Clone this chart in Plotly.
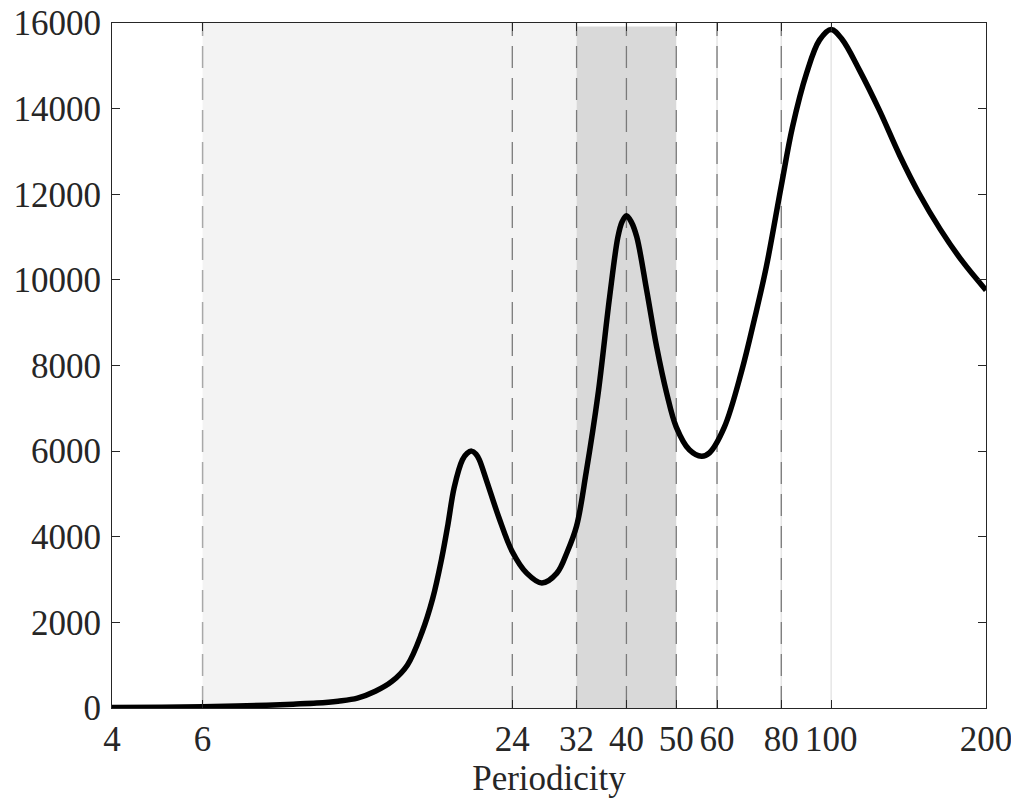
import plotly.graph_objects as go

# Data
periodicity = [4, 5, 6, 7, 8, 9, 10, 11, 12, 13, 14, 15, 16, 16.8, 17.5, 18, 18.5, 19.2,
               19.6, 20, 20.4, 20.7, 21.4, 22.6, 24, 25.6, 27.4, 29.3, 30.7, 32, 33.4,
               35.2, 37.1, 38.5, 39.2, 40, 40.9, 41.9, 43.8, 45.8, 47.9, 50, 53, 56, 58,
               62, 67, 71, 74.8, 80, 84.1, 89.6, 94.9, 100, 105, 113.5, 124, 136, 148,
               163, 180, 200]
power = [10, 15, 30, 45, 65, 90, 115, 160, 230, 390, 620, 1000, 1750, 2550, 3500, 4300,
         5150, 5800, 5950, 6000, 5930, 5800, 5300, 4450, 3650, 3150, 2920, 3150, 3650,
         4250, 5500, 7300, 9600, 11000, 11350, 11500, 11350, 11000, 9750, 8430, 7350,
         6560, 6030, 5880, 5960, 6560, 7870, 9100, 10300, 12200, 13570, 14830, 15600,
         15850, 15620, 14900, 13970, 12900, 12030, 11180, 10430, 9760]

x_ticks = [4, 6, 24, 32, 40, 50, 60, 80, 100, 200]
y_ticks = [0, 2000, 4000, 6000, 8000, 10000, 12000, 14000, 16000]

light_band = (6, 32)
dark_band = (32, 50)
dashed_lines = [24, 32, 40, 50, 60, 80]
light_dashed = [6]
faint_solid = [60, 80, 100]

FONT = "Liberation Serif"
AX = "#262626"
TICK_SIZE = 35

fig = go.Figure()

shapes = []
shapes.append(dict(type="rect", xref="x", yref="paper", x0=light_band[0], x1=light_band[1],
                   y0=0, y1=1, fillcolor="#f3f3f3", line=dict(width=0), layer="below"))
shapes.append(dict(type="rect", xref="x", yref="paper", x0=dark_band[0], x1=dark_band[1],
                   y0=0, y1=0.995, fillcolor="#d9d9d9", line=dict(width=0), layer="below"))
for v in faint_solid:
    shapes.append(dict(type="line", xref="x", yref="paper", x0=v, x1=v, y0=0, y1=1,
                       line=dict(color="#e6e6e6", width=1.5), layer="below"))
for v in light_dashed:
    shapes.append(dict(type="line", xref="x", yref="paper", x0=v, x1=v, y0=0, y1=1,
                       line=dict(color="#a8a8a8", width=1.5, dash="22px,10px"), layer="below"))
for v in dashed_lines:
    shapes.append(dict(type="line", xref="x", yref="paper", x0=v, x1=v, y0=0, y1=1,
                       line=dict(color="#7a7a7a", width=1.3, dash="22px,10px"), layer="below"))

fig.add_trace(go.Scatter(x=periodicity, y=power, mode="lines",
                         line=dict(color="black", width=5.5, shape="spline", smoothing=1.0),
                         showlegend=False, hoverinfo="skip"))

fig.update_layout(
    width=1011, height=790,
    margin=dict(l=104, r=33, t=15, b=90),
    paper_bgcolor="white", plot_bgcolor="white",
    font=dict(family=FONT, size=TICK_SIZE, color=AX),
    shapes=shapes,
)
fig.update_xaxes(
    type="log", range=[0.60206, 2.30103], automargin=False, ticklabeloverflow="allow",
    tickvals=x_ticks, ticktext=[str(t) for t in x_ticks],
    ticks="inside", ticklen=8, tickcolor=AX, tickwidth=1,
    showline=True, linecolor=AX, linewidth=1, mirror="ticks",
    showgrid=False, zeroline=False,
    tickfont=dict(family=FONT, size=TICK_SIZE, color=AX),
    title=dict(text="Periodicity", font=dict(family=FONT, size=35, color=AX), standoff=4),
)
fig.update_yaxes(
    range=[0, 16000], automargin=False, ticklabeloverflow="allow", ticklabelstandoff=3,
    tickvals=y_ticks, ticktext=[str(t) for t in y_ticks],
    ticks="inside", ticklen=8, tickcolor=AX, tickwidth=1,
    showline=True, linecolor=AX, linewidth=1, mirror="ticks",
    showgrid=False, zeroline=False,
    tickfont=dict(family=FONT, size=TICK_SIZE, color=AX),
)

fig.write_html("out.html")
